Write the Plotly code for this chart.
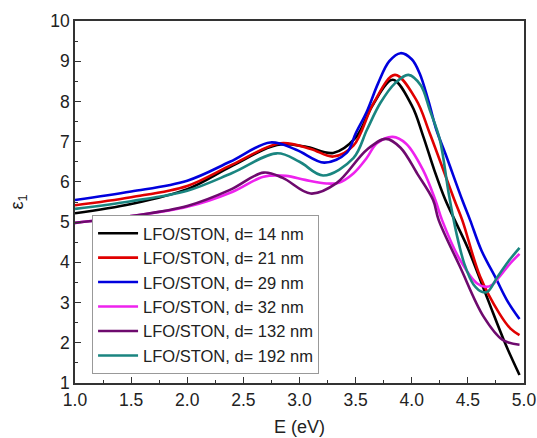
import plotly.graph_objects as go

# ---- data ----
labels = ["LFO/STON, d= 14 nm", "LFO/STON, d= 21 nm", "LFO/STON, d= 29 nm",
          "LFO/STON, d= 32 nm", "LFO/STON, d= 132 nm", "LFO/STON, d= 192 nm"]
colors = ["#000000", "#e00000", "#0000dd", "#ee22ee", "#6e0a6e", "#1a8580"]

E_14 = [1.0, 1.5, 2.0, 2.4, 2.8, 3.05, 3.3, 3.5, 3.65, 3.83, 4.0, 4.1, 4.2, 4.3, 4.4, 4.5, 4.68, 4.83, 4.96]
eps_14 = [5.22, 5.45, 5.82, 6.4, 6.92, 6.88, 6.72, 7.1, 7.9, 8.54, 7.9, 7.15, 6.3, 5.55, 4.95, 4.35, 3.06, 2.0, 1.2]

E_21 = [1.0, 1.5, 2.0, 2.4, 2.83, 3.1, 3.3, 3.48, 3.66, 3.85, 4.04, 4.16, 4.38, 4.45, 4.61, 4.78, 4.88, 4.96]
eps_21 = [5.42, 5.62, 5.9, 6.43, 6.96, 6.82, 6.63, 6.9, 7.96, 8.66, 8.04, 7.21, 5.55, 5.05, 3.64, 2.73, 2.35, 2.19]

E_29 = [1.0, 1.5, 2.0, 2.38, 2.74, 2.97, 3.22, 3.42, 3.5, 3.6, 3.7, 3.8, 3.9, 4.0, 4.07, 4.15, 4.22, 4.3, 4.45, 4.52, 4.62, 4.75, 4.85, 4.96]
eps_29 = [5.55, 5.76, 6.03, 6.5, 6.98, 6.8, 6.48, 6.72, 7.2, 7.75, 8.45, 9.0, 9.2, 9.05, 8.7, 8.0, 7.29, 6.7, 5.55, 5.05, 4.3, 3.6, 3.05, 2.59]

E_32 = [1.0, 1.5, 2.0, 2.4, 2.68, 2.88, 3.05, 3.24, 3.35, 3.48, 3.6, 3.69, 3.83, 3.95, 4.1, 4.21, 4.27, 4.43, 4.58, 4.66, 4.72, 4.78, 4.87, 4.96]
eps_32 = [4.98, 5.15, 5.38, 5.75, 6.13, 6.15, 6.05, 5.96, 5.98, 6.21, 6.6, 6.96, 7.12, 6.95, 6.3, 5.55, 5.05, 4.06, 3.48, 3.39, 3.45, 3.64, 3.95, 4.21]

E_132 = [1.0, 1.5, 2.0, 2.38, 2.68, 2.85, 3.1, 3.33, 3.6, 3.77, 3.9, 4.05, 4.19, 4.24, 4.43, 4.64, 4.81, 4.96]
eps_132 = [4.98, 5.15, 5.4, 5.8, 6.23, 6.1, 5.71, 5.97, 6.8, 7.07, 6.85, 6.2, 5.55, 5.05, 3.89, 2.65, 2.07, 1.95]

E_192 = [1.0, 1.5, 2.0, 2.4, 2.8, 3.0, 3.21, 3.48, 3.6, 3.72, 3.85, 3.97, 4.08, 4.16, 4.25, 4.33, 4.4, 4.47, 4.55, 4.63, 4.68, 4.76, 4.86, 4.96]
eps_192 = [5.33, 5.52, 5.78, 6.22, 6.71, 6.5, 6.16, 6.59, 7.29, 7.96, 8.45, 8.66, 8.4, 7.79, 7.05, 5.7, 4.7, 3.95, 3.45, 3.26, 3.28, 3.62, 4.02, 4.36]

series = [(E_14, eps_14), (E_21, eps_21), (E_29, eps_29),
          (E_32, eps_32), (E_132, eps_132), (E_192, eps_192)]

x_ticks = [1.0, 1.5, 2.0, 2.5, 3.0, 3.5, 4.0, 4.5, 5.0]
y_ticks = [1, 2, 3, 4, 5, 6, 7, 8, 9, 10]

FONT = "Liberation Sans, Arial, sans-serif"

fig = go.Figure()
for (ex, ey), name, col in zip(series, labels, colors):
    fig.add_trace(go.Scatter(x=ex, y=ey, mode="lines", name=name,
                             line=dict(color=col, width=2.6, shape="spline", smoothing=1.0)))

axis_common = dict(showline=True, linecolor="#333333", linewidth=1.5, mirror=True,
                   ticks="inside", ticklen=6, tickwidth=1.3, tickcolor="#333333",
                   showgrid=False, zeroline=False, automargin=False,
                   tickfont=dict(family=FONT, size=17.5, color="#222222"))

fig.update_layout(
    width=537, height=438,
    margin=dict(l=75, r=13, t=21, b=55, autoexpand=False),
    paper_bgcolor="white", plot_bgcolor="white",
    font=dict(family=FONT, size=18, color="#222222"),
    xaxis=dict(range=[1.0, 5.0], tickvals=x_ticks, ticktext=[f"{v:.1f}" for v in x_ticks],
               minor=dict(ticks="inside", ticklen=3, dtick=0.25, tickcolor="#333333", tickwidth=1.2),
               title=dict(text="E (eV)", font=dict(family=FONT, size=18), standoff=12),
               **axis_common),
    yaxis=dict(range=[1, 10], tickvals=y_ticks, ticktext=[str(v) for v in y_ticks],
               minor=dict(ticks="inside", ticklen=3, dtick=0.5, tickcolor="#333333", tickwidth=1.2),
               title=dict(text="ε<sub>1</sub>", font=dict(family=FONT, size=18), standoff=22),
               **axis_common),
    legend=dict(x=0.038, y=0.025, xanchor="left", yanchor="bottom",
                bgcolor="white", bordercolor="#999999", borderwidth=1,
                font=dict(family=FONT, size=16.5, color="#222222"),
                tracegroupgap=0, itemwidth=40),
    showlegend=True,
)

fig.write_html("out.html", config={"displayModeBar": False},
               post_script="document.body.style.margin='0';document.body.style.overflow='hidden';")
